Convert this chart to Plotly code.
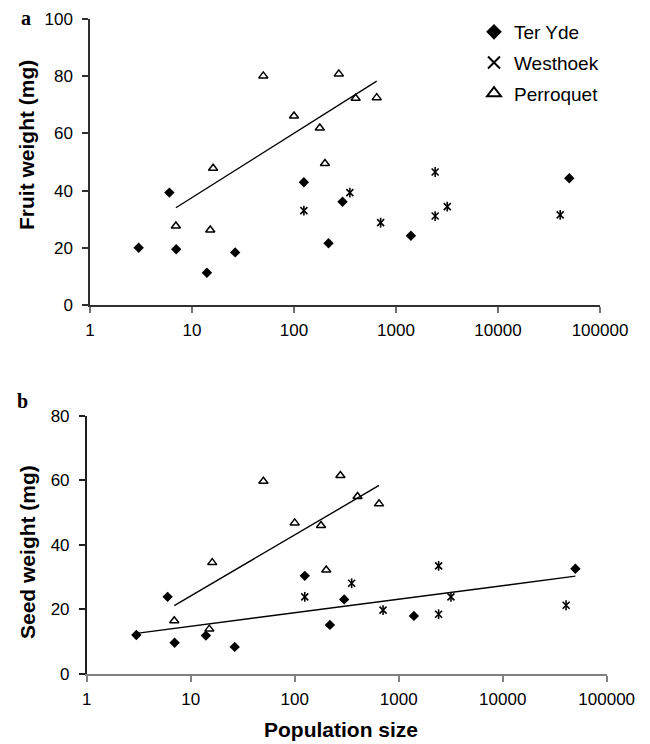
import plotly.graph_objects as go

# ---------------- data ----------------
ter_yde_pop = [3, 6, 7, 14, 26.5, 125, 218, 299, 1400, 50000]
ter_yde_fruit = [20.0, 39.3, 19.5, 11.3, 18.4, 42.9, 21.6, 36.1, 24.2, 44.3]
ter_yde_seed = [12.1, 23.9, 9.7, 11.9, 8.4, 30.4, 15.2, 23.1, 18.0, 32.6]

westhoek_pop = [125, 353, 707, 2420, 2420, 3180, 40700]
westhoek_fruit = [33.0, 39.3, 28.8, 46.5, 31.1, 34.4, 31.5]
westhoek_seed = [23.9, 28.1, 19.8, 33.5, 18.5, 23.9, 21.3]

perroquet_pop = [6.95, 15.1, 16.1, 50, 100, 179, 201, 275, 402, 647]
perroquet_fruit = [27.6, 26.2, 47.8, 80.1, 66.1, 61.9, 49.5, 80.8, 72.3, 72.5]
perroquet_seed = [16.5, 13.9, 34.5, 59.7, 46.8, 46.0, 32.2, 61.5, 55.0, 52.7]

# regression lines (end points)
trend_fruit_perroquet_x = [6.95, 647]
trend_fruit_perroquet_y = [34.0, 78.3]
trend_seed_perroquet_x = [6.95, 647]
trend_seed_perroquet_y = [21.2, 58.4]
trend_seed_teryde_x = [3, 50000]
trend_seed_teryde_y = [12.6, 30.3]

x_tickvals = [1, 10, 100, 1000, 10000, 100000]
x_ticktext = ["1", "10", "100", "1000", "10000", "100000"]
fruit_ticks = [0, 20, 40, 60, 80, 100]
seed_ticks = [0, 20, 40, 60, 80]

series_names = ["Ter Yde", "Westhoek", "Perroquet"]

# ---------------- figure ----------------
W, H = 650, 744
FONT = "Liberation Sans, Arial, sans-serif"
SERIF = "Liberation Serif, Times New Roman, serif"
fig = go.Figure()

diamond = dict(symbol="diamond", size=8, color="black", line=dict(width=0))
xmark = dict(symbol="x-thin-open", size=7, color="black", line=dict(width=1.6, color="black"))
nsmark = dict(symbol="line-ns-open", size=7, color="black", line=dict(width=1.6, color="black"))
tri = dict(symbol="triangle-up-open", size=8, color="black", line=dict(width=1.5, color="black"))

# panel a
fig.add_trace(go.Scatter(x=ter_yde_pop, y=ter_yde_fruit, mode="markers", marker=diamond,
                         name=series_names[0], legendgroup="g1", xaxis="x", yaxis="y"))
fig.add_trace(go.Scatter(x=westhoek_pop, y=westhoek_fruit, mode="markers", marker=xmark,
                         name=series_names[1], legendgroup="g2", xaxis="x", yaxis="y"))
fig.add_trace(go.Scatter(x=westhoek_pop, y=westhoek_fruit, mode="markers", marker=nsmark,
                         name=series_names[1], legendgroup="g2", showlegend=False, xaxis="x", yaxis="y"))
fig.add_trace(go.Scatter(x=perroquet_pop, y=perroquet_fruit, mode="markers", marker=tri,
                         name=series_names[2], legendgroup="g3", xaxis="x", yaxis="y"))
fig.add_trace(go.Scatter(x=trend_fruit_perroquet_x, y=trend_fruit_perroquet_y, mode="lines",
                         line=dict(color="black", width=1.4), showlegend=False, xaxis="x", yaxis="y"))

# panel b
fig.add_trace(go.Scatter(x=ter_yde_pop, y=ter_yde_seed, mode="markers", marker=diamond,
                         name=series_names[0], showlegend=False, xaxis="x2", yaxis="y2"))
fig.add_trace(go.Scatter(x=westhoek_pop, y=westhoek_seed, mode="markers", marker=xmark,
                         name=series_names[1], showlegend=False, xaxis="x2", yaxis="y2"))
fig.add_trace(go.Scatter(x=westhoek_pop, y=westhoek_seed, mode="markers", marker=nsmark,
                         name=series_names[1], showlegend=False, xaxis="x2", yaxis="y2"))
fig.add_trace(go.Scatter(x=perroquet_pop, y=perroquet_seed, mode="markers", marker=tri,
                         name=series_names[2], showlegend=False, xaxis="x2", yaxis="y2"))
fig.add_trace(go.Scatter(x=trend_seed_perroquet_x, y=trend_seed_perroquet_y, mode="lines",
                         line=dict(color="black", width=1.4), showlegend=False, xaxis="x2", yaxis="y2"))
fig.add_trace(go.Scatter(x=trend_seed_teryde_x, y=trend_seed_teryde_y, mode="lines",
                         line=dict(color="black", width=1.4), showlegend=False, xaxis="x2", yaxis="y2"))


def px_x(p):
    return p / W


def px_y(p):
    return 1 - p / H


common_x = dict(type="log", range=[0, 5], tickmode="array", tickvals=x_tickvals, ticktext=x_ticktext,
                showline=True, linewidth=1.5, ticks="outside", ticklen=6, tickwidth=1.5,
                showgrid=False, zeroline=False, tickfont=dict(family=FONT, size=17, color="black"),
                ticklabelstandoff=3, automargin=False)
common_y = dict(showline=True, linewidth=1.5, ticks="outside", ticklen=6, tickwidth=1.5,
                showgrid=False, zeroline=False, tickfont=dict(family=FONT, size=17, color="black"),
                ticklabelstandoff=6, tickmode="array", automargin=False)


def label(text, x, y, font, angle=0):
    return dict(text=text, x=px_x(x), y=px_y(y), xref="paper", yref="paper", showarrow=False,
                xanchor="center", yanchor="middle", textangle=angle, font=font)


fig.update_layout(
    template="none",
    width=W, height=H,
    margin=dict(l=0, r=0, t=0, b=0, pad=0),
    paper_bgcolor="white", plot_bgcolor="white",
    showlegend=True,
    xaxis=dict(domain=[px_x(90), px_x(600)], anchor="y", linecolor="#303030", tickcolor="#707070", **common_x),
    yaxis=dict(domain=[px_y(305), px_y(19)], anchor="x", range=[0, 100], tickvals=fruit_ticks,
               linecolor="#303030", tickcolor="#303030", **common_y),
    xaxis2=dict(domain=[px_x(86.7), px_x(606.7)], anchor="y2", linecolor="#808080", tickcolor="#808080", **common_x),
    yaxis2=dict(domain=[px_y(674), px_y(415.7)], anchor="x2", range=[0, 80], tickvals=seed_ticks,
                linecolor="#202020", tickcolor="#202020", **common_y),
    legend=dict(x=px_x(474), y=px_y(13), xanchor="left", yanchor="top",
                font=dict(family=FONT, size=19, color="black"), bgcolor="rgba(0,0,0,0)",
                traceorder="grouped", tracegroupgap=3, itemsizing="constant"),
    annotations=[
        label("<b>a</b>", 26, 18, dict(family=SERIF, size=20, color="black")),
        label("<b>b</b>", 22.5, 401, dict(family=SERIF, size=20, color="black")),
        label("<b>Fruit weight (mg)</b>", 27, 145, dict(family=FONT, size=21, color="black"), -90),
        label("<b>Seed weight (mg)</b>", 27, 552, dict(family=FONT, size=21, color="black"), -90),
        label("<b>Population size</b>", 341, 729, dict(family=FONT, size=21, color="black")),
    ],
)

fig.write_html("out.html", config={"displayModeBar": False},
               post_script="document.body.style.margin='0px';")
